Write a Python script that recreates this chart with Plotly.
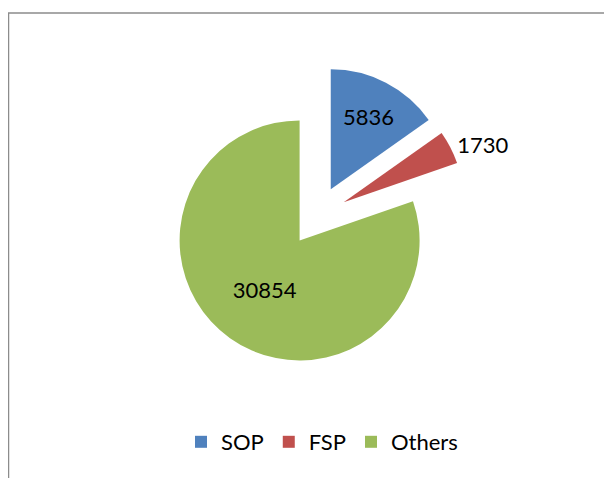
import plotly.graph_objects as go

# slice data
labels = ["SOP", "FSP", "Others"]
values = [5836, 1730, 30854]
colors = ["#4F81BD", "#C0504D", "#9BBB59"]
text_pos = ["inside", "outside", "inside"]

# the page body adds an 8px offset, so pixel positions below are shifted by -8
W, H = 612, 478

fig = go.Figure()

fig.add_trace(go.Pie(
    labels=labels,
    values=values,
    marker=dict(colors=colors, line=dict(width=0)),
    sort=False,
    direction="clockwise",
    rotation=0,
    pull=0.25,
    texttemplate="%{value:.0f}",
    textposition=text_pos,
    insidetextorientation="horizontal",
    textfont=dict(family="Lato", size=22, color="black"),
    domain=dict(x=[159 / W, 459 / W], y=[1 - 358 / H, 1 - 58 / H]),
    hoverinfo="label+value",
))

# chart frame (only top and left edges are visible in the crop)
fig.add_shape(type="rect", xref="paper", yref="paper",
              x0=0.5 / W, x1=1.05, y0=-0.05, y1=1 - 5 / H,
              line=dict(color="#8c8c8c", width=1.5))

fig.update_layout(
    width=W,
    height=H,
    margin=dict(l=0, r=0, t=0, b=0, autoexpand=False),
    paper_bgcolor="white",
    plot_bgcolor="white",
    font=dict(family="Lato", size=22, color="black"),
    legend=dict(orientation="h", x=314 / W, xanchor="center", y=1 - 434 / H,
                yanchor="middle", font=dict(size=22), itemwidth=30,
                traceorder="normal"),
)

fig.write_html("out.html")
